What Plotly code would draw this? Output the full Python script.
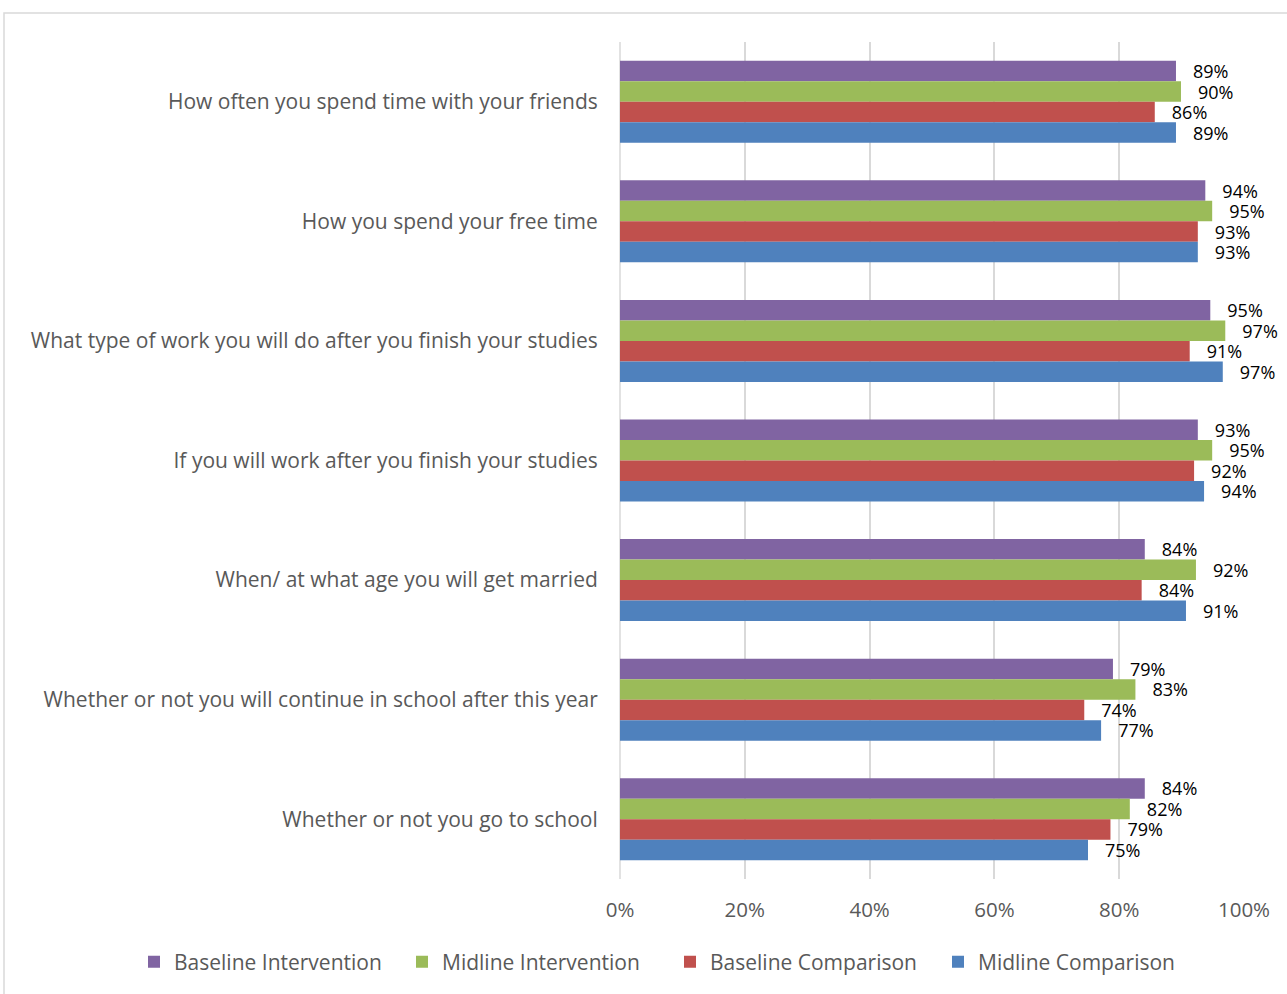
import plotly.graph_objects as go

categories = [
    "How often you spend time with your friends",
    "How you spend your free time",
    "What type of work you will do after you finish your studies",
    "If you will work after you finish your studies",
    "When/ at what age you will get married",
    "Whether or not you will continue in school after this year",
    "Whether or not you go to school",
]
series_names = ["Baseline Intervention", "Midline Intervention", "Baseline Comparison", "Midline Comparison"]
baseline_intervention = [0.891, 0.938, 0.946, 0.926, 0.841, 0.790, 0.841]
midline_intervention = [0.899, 0.949, 0.970, 0.949, 0.923, 0.826, 0.817]
baseline_comparison = [0.857, 0.926, 0.913, 0.920, 0.836, 0.744, 0.786]
midline_comparison = [0.891, 0.926, 0.966, 0.936, 0.907, 0.771, 0.750]
colors = ["#8064A2", "#9BBB59", "#C0504D", "#4F81BD"]
tick_vals = [0, 0.2, 0.4, 0.6, 0.8, 1.0]
tick_text = ["0%", "20%", "40%", "60%", "80%", "100%"]

all_series = [baseline_intervention, midline_intervention, baseline_comparison, midline_comparison]

fig = go.Figure()
for name, vals, col in zip(series_names, all_series, colors):
    fig.add_trace(go.Bar(
        y=categories, x=vals, name=name, orientation="h",
        marker=dict(color=col, line=dict(width=0)),
        texttemplate="\u00a0\u00a0\u00a0%{x:.0%}", textposition="outside",
        textfont=dict(family="Open Sans", size=18, color="#000000"),
        constraintext="none", cliponaxis=False,
    ))

W, H = 1287, 994
ml, mr, mt, mb = 620, 43, 42, 115
pw, ph = W - ml - mr, H - mt - mb
fx = lambda px: (px - ml) / pw
fy = lambda py: (H - mb - py) / ph

fig.update_layout(
    width=W, height=H,
    margin=dict(l=ml, r=mr, t=mt, b=mb, autoexpand=False),
    paper_bgcolor="white", plot_bgcolor="white",
    barmode="group", bargap=0.314, bargroupgap=0,
    font=dict(family="Open Sans", color="#595959"),
    showlegend=True,
    legend=dict(orientation="h", xref="paper", x=fx(134), xanchor="left",
                yref="paper", y=fy(962), yanchor="middle",
                font=dict(size=21, color="#595959"), itemwidth=30,
                entrywidth=223, entrywidthmode="pixels",
                traceorder="normal"),
    xaxis=dict(range=[0, 1], tickvals=tick_vals, ticktext=tick_text,
               showgrid=True, gridcolor="#d9d9d9", gridwidth=1.5,
               zeroline=False, showline=False,
               ticks="outside", ticklen=12, tickcolor="rgba(0,0,0,0)",
               tickfont=dict(size=20.5, color="#595959")),
    yaxis=dict(categoryorder="array", categoryarray=categories, autorange="reversed",
               showgrid=False, showline=False, zeroline=False,
               ticks="outside", ticklen=17, tickcolor="rgba(0,0,0,0)",
               tickfont=dict(size=21, color="#595959")),
    shapes=[
        dict(type="line", xref="paper", yref="paper", x0=0, x1=0, y0=0, y1=1,
             line=dict(color="#d9d9d9", width=1.5), layer="below"),
        dict(type="rect", xref="paper", yref="paper", x0=fx(4), x1=fx(1300), y0=fy(13), y1=fy(1010),
             line=dict(color="#d9d9d9", width=1.5), fillcolor="rgba(0,0,0,0)", layer="below"),
    ],
)

fig.write_html("out.html")
